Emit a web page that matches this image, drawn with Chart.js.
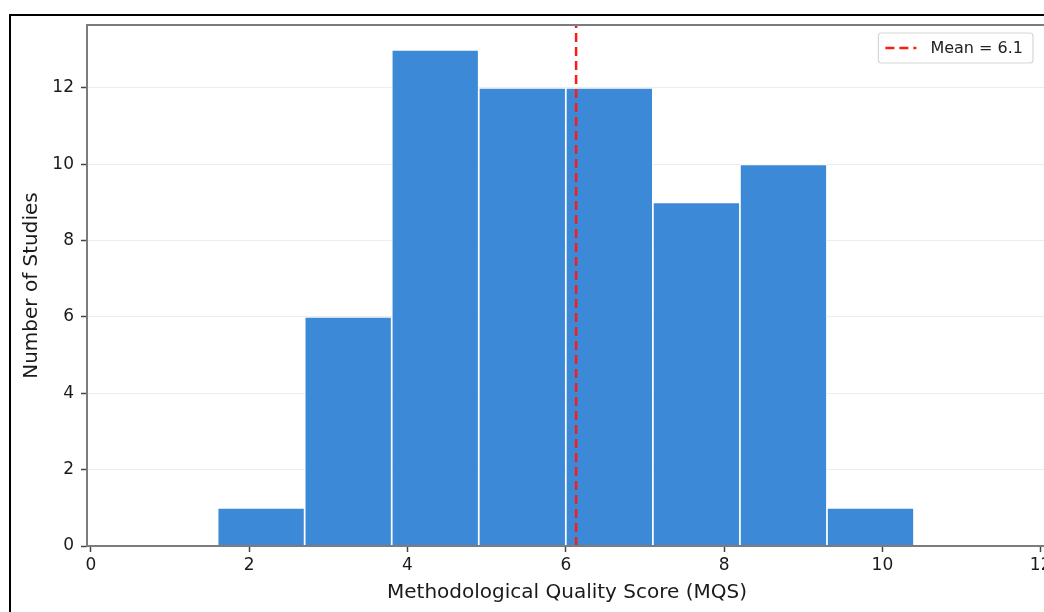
<!DOCTYPE html>
<html>
<head>
<meta charset="utf-8">
<script src="https://cdn.jsdelivr.net/npm/chart.js@4.4.1/dist/chart.umd.min.js"></script>
<style>
  html, body { margin: 0; padding: 0; background: #fff; overflow: hidden; width: 1044px; height: 612px; }
  #wrap { position: absolute; left: 0; top: 0; width: 1110px; height: 640px; }
  #frame { position: absolute; left: 9px; top: 14px; width: 1200px; height: 700px;
           border-left: 2px solid #000; border-top: 2px solid #000; pointer-events: none; }
</style>
</head>
<body>
<div id="wrap"><canvas id="myChart" width="1110" height="640"></canvas></div>
<div id="frame"></div>
<script>
// histogram bins (MQS) and study counts
const binEdges = [1.6, 2.7, 3.8, 4.9, 6.0, 7.1, 8.2, 9.3, 10.4];
const binCounts = [1, 6, 13, 12, 12, 9, 10, 1];
const meanScore = 6.13;
const meanLabel = 'Mean = 6.1';
const xTicks = [0, 2, 4, 6, 8, 10, 12];
const yTicks = [0, 2, 4, 6, 8, 10, 12];

const xMin = -0.05, xMax = 12.08, yMax = 13.65;
const font = 'DejaVu Sans';

function getBarData() {
    return binCounts.map((count, i) => {
        return { x: (binEdges[i] + binEdges[i + 1]) / 2, y: count };
    });
}

// spines drawn on top of the bars
const framePlugin = {
    id: 'frame',
    afterDatasetsDraw(chart) {
        const {ctx, chartArea: a} = chart;
        ctx.save();
        ctx.strokeStyle = '#7c7c7c';
        ctx.lineWidth = 2;
        ctx.strokeRect(a.left, a.top, a.right - a.left, a.bottom - a.top);
        ctx.restore();
    }
};

// matplotlib-like legend box in the upper right corner
const legendPlugin = {
    id: 'mplLegend',
    afterDraw(chart) {
        const {ctx, chartArea: a} = chart;
        const ds = chart.data.datasets[1];
        ctx.save();
        ctx.font = '16px "' + font + '"';
        const tw = ctx.measureText(ds.label).width;
        const w = tw + 62, h = 30;
        const x = a.right - 14 - w, y = a.top + 8;
        ctx.beginPath();
        ctx.roundRect(x, y, w, h, 3);
        ctx.fillStyle = 'rgba(255,255,255,0.85)';
        ctx.fill();
        ctx.strokeStyle = '#d6d6d6';
        ctx.lineWidth = 1.2;
        ctx.stroke();
        ctx.beginPath();
        ctx.setLineDash(ds.borderDash);
        ctx.strokeStyle = ds.borderColor;
        ctx.lineWidth = ds.borderWidth;
        ctx.moveTo(x + 7, y + h / 2);
        ctx.lineTo(x + 38, y + h / 2);
        ctx.stroke();
        ctx.setLineDash([]);
        ctx.fillStyle = '#222';
        ctx.textBaseline = 'middle';
        ctx.fillText(ds.label, x + 52, y + h / 2 + 1);
        ctx.restore();
    }
};

const ctx = document.getElementById('myChart').getContext('2d');
new Chart(ctx, {
    type: 'bar',
    data: {
        datasets: [
            {
                label: 'Studies',
                data: getBarData(),
                backgroundColor: '#3b89d7',
                borderColor: 'rgba(255,255,255,0.7)',
                borderWidth: 1.2,
                borderSkipped: 'bottom',
                barPercentage: 1,
                categoryPercentage: 1,
                order: 1,
            },
            {
                type: 'line',
                label: meanLabel,
                data: [{x: meanScore, y: 0}, {x: meanScore, y: yMax}],
                borderColor: '#ff1a1a',
                borderWidth: 2.5,
                borderDash: [9, 5],
                pointRadius: 0,
                order: 0,
            },
        ]
    },
    options: {
        responsive: false,
        animation: false,
        layout: { padding: { left: 0, top: 25, right: 63, bottom: 28 } },
        plugins: {
            legend: { display: false },
            tooltip: { enabled: false },
            title: { display: false },
        },
        scales: {
            x: {
                type: 'linear',
                min: xMin,
                max: xMax,
                offset: false,
                afterFit: (scale) => { scale.height = 66; },
                afterBuildTicks: (scale) => { scale.ticks = xTicks.map(v => ({value: v})); },
                ticks: { includeBounds: false, padding: 3, color: '#1a1a1a', font: { family: font, size: 17 } },
                grid: { offset: false, drawOnChartArea: false, tickLength: 6, tickColor: '#444', tickWidth: 1.5 },
                border: { display: false },
                title: { display: true, text: 'Methodological Quality Score (MQS)', color: '#1a1a1a',
                         font: { family: font, size: 20 }, padding: { top: 0, bottom: 7 } },
            },
            y: {
                min: 0,
                max: yMax,
                afterFit: (scale) => { scale.width = 87; },
                afterBuildTicks: (scale) => { scale.ticks = yTicks.map(v => ({value: v})); },
                ticks: { includeBounds: false, padding: 7, color: '#1a1a1a', font: { family: font, size: 17 } },
                grid: { color: '#ececec', lineWidth: 1, tickLength: 6, tickColor: '#444', tickWidth: 1.5 },
                border: { display: false },
                title: { display: true, text: 'Number of Studies', color: '#1a1a1a',
                         font: { family: font, size: 20 }, padding: { top: 20, bottom: 0 } },
            },
        },
    },
    plugins: [framePlugin, legendPlugin],
});
</script>
</body>
</html>
